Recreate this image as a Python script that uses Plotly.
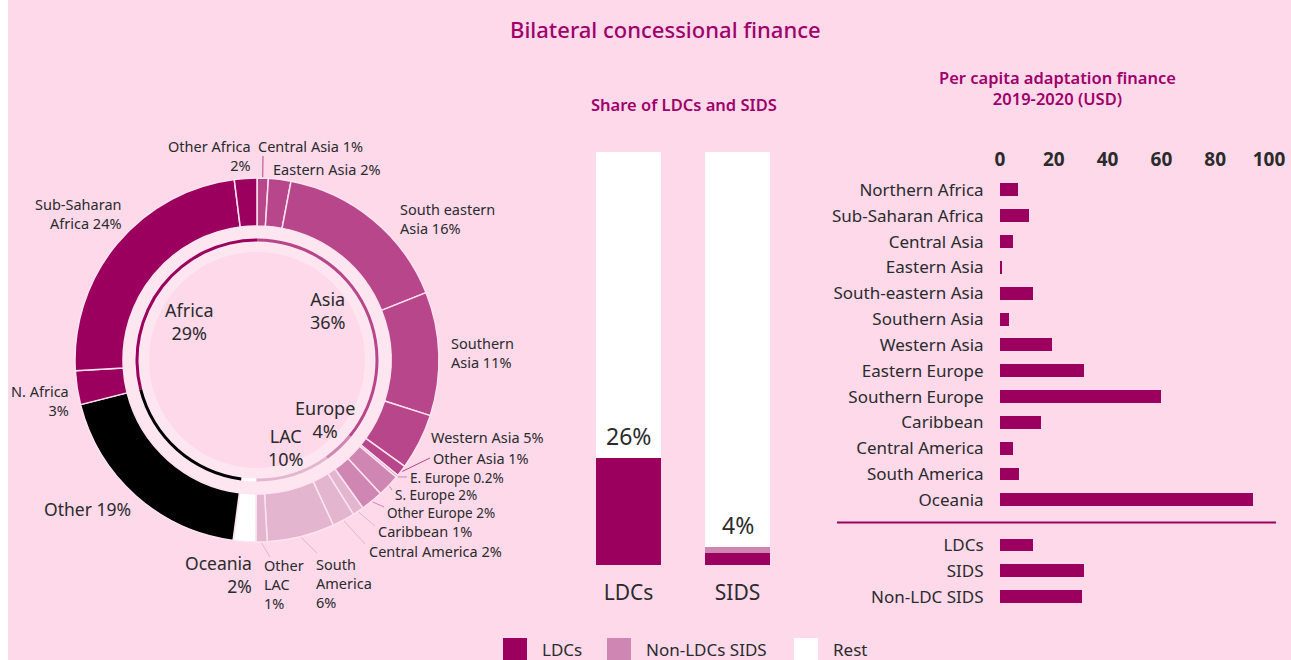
import math
import plotly.graph_objects as go

W, H = 1291, 660
BG = "#fdd9ea"
MAG = "#9b005f"
TITLE_C = "#a0006a"
TXT = "#2b2b2b"
FONT = "Noto Sans"

# ---------------- data ----------------
# Donut (outer ring), clockwise from 12 o'clock
slice_names = ["Central Asia", "Eastern Asia", "South eastern Asia", "Southern Asia", "Western Asia",
               "Other Asia", "E. Europe", "S. Europe", "Other Europe", "Caribbean", "Central America",
               "South America", "Other LAC", "Oceania", "Other", "N. Africa", "Sub-Saharan Africa",
               "Other Africa"]
slice_values = [1, 2, 16, 11, 5, 1, 0.2, 2, 2, 1, 2, 6, 1, 2, 19, 3, 24, 2]
slice_groups = ["Asia", "Asia", "Asia", "Asia", "Asia", "Asia", "Europe", "Europe", "Europe",
                "LAC", "LAC", "LAC", "LAC", "Oceania", "Other", "Africa", "Africa", "Africa"]
slice_label_text = ["Central Asia 1%", "Eastern Asia 2%", "South eastern<br>Asia 16%",
                    "Southern<br>Asia 11%", "Western Asia 5%", "Other Asia 1%", "E. Europe 0.2%",
                    "S. Europe 2%", "Other Europe 2%", "Caribbean 1%", "Central America 2%",
                    "South<br>America<br>6%", "Other<br>LAC<br>1%", "Oceania<br>2%", "Other 19%",
                    "N. Africa<br>3%", "Sub-Saharan<br>Africa 24%", "Other Africa<br>2%"]

# inner ring groups
group_names = ["Asia", "Europe", "LAC", "Oceania", "Other", "Africa"]
group_pct_text = ["Asia<br>36%", "Europe<br>4%", "LAC<br>10%", None, None, "Africa<br>29%"]

# Share of LDCs and SIDS
share_cats = ["LDCs", "SIDS"]
share_ldc = [26, 2.8]
share_nonldc_sids = [0, 1.5]
share_text = ["26%", "4%"]

# Per capita adaptation finance
region_names = ["Northern Africa", "Sub-Saharan Africa", "Central Asia", "Eastern Asia",
                "South-eastern Asia", "Southern Asia", "Western Asia", "Eastern Europe",
                "Southern Europe", "Caribbean", "Central America", "South America", "Oceania"]
region_values = [6.7, 10.7, 4.8, 0.7, 12.2, 3.3, 19.3, 31.1, 60, 15.2, 4.8, 7.0, 94.1]
grp_names = ["LDCs", "SIDS", "Non-LDC SIDS"]
grp_values = [12.2, 31.1, 30.4]
x_ticks = [0, 20, 40, 60, 80, 100]

# ---------------- styling / layout helpers ----------------
group_colors = {"Asia": "#b8468a", "Europe": "#d086b2", "LAC": "#e3b5ce",
                "Oceania": "#ffffff", "Other": "#000000", "Africa": MAG}


def px(x):
    return x / W


def py(y):
    return 1 - y / H


CX, CY = 257, 360
R_OUT, R_IN = 182, 134
R_ARC_O, R_ARC_I = 121.5, 118.5
R_BAND = 135


def dom(r):
    return dict(x=[px(CX - r), px(CX + r)], y=[py(CY + r), py(CY - r)])


fig = go.Figure()

# light band between ring and arc
fig.add_trace(go.Pie(values=[1], labels=["band"], domain=dom(R_BAND), hole=0.8,
                     marker=dict(colors=["#fde6f0"], line=dict(width=0)),
                     textinfo="none", hoverinfo="skip", showlegend=False, sort=False))

# outer ring
fig.add_trace(go.Pie(values=slice_values, labels=slice_names, domain=dom(R_OUT), hole=R_IN / R_OUT,
                     direction="clockwise", rotation=0, sort=False,
                     marker=dict(colors=[group_colors[g] for g in slice_groups],
                                 line=dict(color="#fde3ef", width=1.5)),
                     textinfo="none", hoverinfo="label+percent", showlegend=False))

# inner thin arc
group_values = [sum(v for v, g in zip(slice_values, slice_groups) if g == n) for n in group_names]
fig.add_trace(go.Pie(values=group_values, labels=group_names, domain=dom(R_ARC_O),
                     hole=R_ARC_I / R_ARC_O, direction="clockwise", rotation=0, sort=False,
                     marker=dict(colors=[group_colors[g] for g in group_names], line=dict(width=0)),
                     textinfo="none", hoverinfo="label", showlegend=False))

# middle stacked bars
rest = [100 - a - b for a, b in zip(share_ldc, share_nonldc_sids)]
for name, vals, col in [("LDCs", share_ldc, MAG), ("Non-LDCs SIDS", share_nonldc_sids, "#d086b2"),
                        ("Rest", rest, "#ffffff")]:
    fig.add_trace(go.Bar(x=share_cats, y=vals, name=name, marker=dict(color=col, line=dict(width=0)),
                         width=0.6, xaxis="x", yaxis="y", showlegend=False))

# right horizontal bars
pos_regions = list(range(len(region_names)))
pos_groups = [len(region_names) + 0.75 + i for i in range(len(grp_names))]
fig.add_trace(go.Bar(x=region_values + grp_values, y=pos_regions + pos_groups, orientation="h",
                     marker=dict(color=MAG, line=dict(width=0)), width=0.5,
                     xaxis="x2", yaxis="y2", showlegend=False))

annotations = []
shapes = []

# white page strip on the left edge
shapes.append(dict(type="rect", xref="paper", yref="paper", x0=0, x1=px(8), y0=0, y1=1,
                   fillcolor="#ffffff", line=dict(width=0), layer="above"))


def ann(text, x, y, size, color=TXT, xanchor="center", align="center", weight="normal", pad=1):
    annotations.append(dict(text=text, x=px(x), y=py(y), xref="paper", yref="paper",
                            xanchor=xanchor, yanchor="middle", align=align, showarrow=False,
                            borderpad=pad,
                            font=dict(family=FONT, size=size, color=color, weight=weight)))


# Titles
ann("Bilateral concessional finance", 666, 29, 22, TITLE_C, weight=500)
ann("Share of LDCs and SIDS", 684, 105, 16.5, TITLE_C, weight=600)
ann("Per capita adaptation finance<br>2019-2020 (USD)", 1057, 88.5, 16.5, TITLE_C, weight=600)

# outer donut labels: (x, y, xanchor, fontsize)
label_pos = [
    (257, 146, "left", 14.5), (272, 169, "left", 14.5), (399, 218, "left", 14.5),
    (450, 352, "left", 14.5), (430, 437, "left", 14.5), (432, 458, "left", 14.5),
    (409, 478, "left", 13.5), (394, 495, "left", 13.5), (386, 513, "left", 13.5),
    (377, 531, "left", 14.5), (368, 551, "left", 14.5), (315, 583, "left", 14.5),
    (263, 584, "left", 14.5), (253, 574, "right", 17.5), (132, 509, "right", 17.5),
    (70, 400, "right", 14.5), (123, 213, "right", 14.5), (252, 155, "right", 14.5),
]
for txt, (x, y, xa, fs) in zip(slice_label_text, label_pos):
    ann(txt, x, y, fs, xanchor=xa, align=xa, pad=0)

# leader lines from slice mid-angle to label
leader_end = {0: (263, 156), 5: (430, 458), 6: (407, 477), 7: (392, 490), 8: (384, 507),
              9: (375, 526), 10: (365, 544), 11: (317, 553), 12: (270, 557)}
total = sum(slice_values)
cum = 0
mids = []
for v in slice_values:
    mids.append((cum + v / 2) / total * 2 * math.pi)
    cum += v
for i, (ex, ey) in leader_end.items():
    a = mids[i]
    sx, sy = CX + (R_OUT + 1) * math.sin(a), CY - (R_OUT + 1) * math.cos(a)
    shapes.append(dict(type="line", xref="paper", yref="paper", x0=px(sx), y0=py(sy), x1=px(ex), y1=py(ey),
                       line=dict(color=group_colors[slice_groups[i]], width=1)))

# inner group labels
inner_pos = {"Asia": (328, 310), "Europe": (325, 419), "LAC": (286, 447), "Africa": (190, 321)}
for n, t in zip(group_names, group_pct_text):
    if t:
        x, y = inner_pos[n]
        ann(t, x, y, 18)

# bar value labels in the middle chart
for c, a, b, t in zip(share_cats, share_ldc, share_nonldc_sids, share_text):
    annotations.append(dict(text=t, x=c, y=a + b, xref="x", yref="y", yshift=22, yanchor="middle",
                            showarrow=False, font=dict(family=FONT, size=23, color=TXT)))

# separator line in right chart
sep_y = (pos_regions[-1] + pos_groups[0]) / 2
shapes.append(dict(type="line", xref="paper", yref="y2", x0=px(837), x1=px(1276), y0=sep_y, y1=sep_y,
                   line=dict(color=MAG, width=2)))

# manual legend
legend_items = [("LDCs", MAG, 503), ("Non-LDCs SIDS", "#d086b2", 607), ("Rest", "#ffffff", 794)]
for name, col, x0 in legend_items:
    shapes.append(dict(type="rect", xref="paper", yref="paper", x0=px(x0), x1=px(x0 + 24), y0=py(662),
                       y1=py(638), fillcolor=col, line=dict(width=0)))
    ann(name, x0 + 37, 649, 17, xanchor="left", align="left")

fig.update_layout(
    width=W, height=H, margin=dict(l=0, r=0, t=0, b=0, pad=0, autoexpand=False),
    paper_bgcolor=BG, plot_bgcolor="rgba(0,0,0,0)",
    barmode="stack", bargap=0, showlegend=False,
    font=dict(family=FONT, color=TXT),
    xaxis=dict(domain=[px(574), px(792)], range=[-0.5, 1.5], type="category", showgrid=False,
               zeroline=False, showline=False, ticks="outside", ticklen=9, tickcolor="rgba(0,0,0,0)",
               tickfont=dict(family=FONT, size=21, color=TXT), anchor="y", fixedrange=True,
               automargin=False),
    yaxis=dict(domain=[py(565), py(152)], range=[0, 100], visible=False, anchor="x", fixedrange=True,
               automargin=False),
    xaxis2=dict(domain=[px(1000), px(1269)], range=[0, 100], side="top", tickvals=x_ticks,
                showgrid=False, zeroline=False, showline=False, ticks="outside", ticklen=3,
                tickcolor="rgba(0,0,0,0)", tickfont=dict(family=FONT, size=19, color=TXT, weight="bold"),
                anchor="y2", fixedrange=True, automargin=False),
    yaxis2=dict(domain=[py(609.7), py(177.1)], range=[pos_groups[-1] + 0.5, -0.5],
                tickvals=pos_regions + pos_groups, ticktext=region_names + grp_names,
                showgrid=False, zeroline=False, showline=False, ticks="outside", ticklen=12,
                tickcolor="rgba(0,0,0,0)", tickfont=dict(family=FONT, size=17, color=TXT),
                anchor="x2", fixedrange=True, automargin=False),
    annotations=annotations, shapes=shapes,
)

fig.write_html(
    "out.html",
    config={"displayModeBar": False},
    post_script="document.documentElement.style.overflow='hidden';"
                "document.body.style.margin='0px';document.body.style.overflow='hidden';",
)
